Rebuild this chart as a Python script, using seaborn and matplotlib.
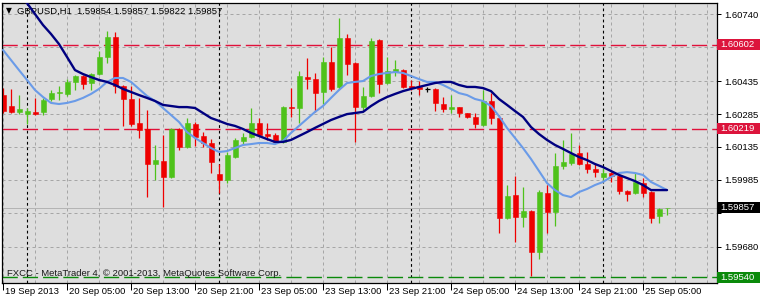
import numpy as np
import pandas as pd
import seaborn as sns
import matplotlib
matplotlib.use("Agg")
import matplotlib.pyplot as plt
from matplotlib.patches import Rectangle
from matplotlib.transforms import ScaledTranslation

# ---------------- data (GBPUSD H1) ----------------
open_ = [1.60372, 1.60322, 1.60295, 1.60285, 1.60295, 1.60295, 1.60354, 1.60381, 1.60377, 1.60432,
         1.60459, 1.60427, 1.60468, 1.60546, 1.60637, 1.60413, 1.60354, 1.60244, 1.60217, 1.60057,
         1.60071, 1.59998, 1.60217, 1.60135, 1.60240, 1.60185, 1.60153, 1.60011, 1.59984, 1.60089,
         1.60162, 1.60180, 1.60244, 1.60194, 1.60190, 1.60158, 1.60317, 1.60313, 1.60454, 1.60445,
         1.60386, 1.60523, 1.60409, 1.60633, 1.60518, 1.60317, 1.60368, 1.60624, 1.60427, 1.60477,
         1.60486, 1.60413, 1.60409, 1.60400, 1.60400, 1.60331, 1.60308, 1.60317, 1.60290, 1.60272,
         1.60235, 1.60345, 1.60267, 1.59810, 1.59915, 1.59815, 1.59842, 1.59655, 1.59925, 1.59838,
         1.60048, 1.60062, 1.60107, 1.60057, 1.60034, 1.59998, 1.60016, 1.60002, 1.59934, 1.59925,
         1.59970, 1.59929, 1.59820, 1.59854]
high = [1.60404, 1.60400, 1.60372, 1.60313, 1.60359, 1.60359, 1.60395, 1.60413, 1.60445, 1.60464,
        1.60464, 1.60473, 1.60573, 1.60665, 1.60660, 1.60418, 1.60413, 1.60359, 1.60304, 1.60144,
        1.60190, 1.60222, 1.60222, 1.60267, 1.60249, 1.60203, 1.60171, 1.60057, 1.60112, 1.60176,
        1.60199, 1.60313, 1.60267, 1.60244, 1.60199, 1.60322, 1.60404, 1.60482, 1.60541, 1.60473,
        1.60546, 1.60592, 1.60724, 1.60651, 1.60523, 1.60409, 1.60633, 1.60628, 1.60546, 1.60532,
        1.60491, 1.60441, 1.60436, 1.60409, 1.60404, 1.60363, 1.60372, 1.60317, 1.60290, 1.60290,
        1.60395, 1.60381, 1.60281, 1.59961, 1.60002, 1.59952, 1.59847, 1.59938, 1.59961, 1.60107,
        1.60167, 1.60199, 1.60144, 1.60112, 1.60062, 1.60039, 1.60020, 1.60011, 1.59938, 1.60016,
        1.59993, 1.59934, 1.59856, 1.59857]
low = [1.60290, 1.60290, 1.60285, 1.60240, 1.60281, 1.60281, 1.60345, 1.60349, 1.60368, 1.60395,
       1.60400, 1.60395, 1.60464, 1.60518, 1.60381, 1.60231, 1.60231, 1.60176, 1.59906, 1.59984,
       1.59861, 1.59993, 1.60121, 1.60130, 1.60139, 1.60135, 1.60016, 1.59925, 1.59970, 1.60084,
       1.60148, 1.60176, 1.60185, 1.60167, 1.60153, 1.60153, 1.60272, 1.60244, 1.60400, 1.60295,
       1.60331, 1.60390, 1.60400, 1.60464, 1.60158, 1.60304, 1.60363, 1.60381, 1.60422, 1.60459,
       1.60404, 1.60395, 1.60372, 1.60386, 1.60299, 1.60295, 1.60290, 1.60272, 1.60267, 1.60222,
       1.60231, 1.60240, 1.59742, 1.59806, 1.59701, 1.59769, 1.59545, 1.59623, 1.59742, 1.59774,
       1.60034, 1.60052, 1.60052, 1.60016, 1.59998, 1.59984, 1.59975, 1.59920, 1.59888, 1.59920,
       1.59906, 1.59788, 1.59788, 1.59822]
close = [1.60299, 1.60295, 1.60308, 1.60299, 1.60285, 1.60349, 1.60381, 1.60386, 1.60432, 1.60459,
         1.60422, 1.60468, 1.60546, 1.60637, 1.60413, 1.60354, 1.60240, 1.60212, 1.60057, 1.60075,
         1.59998, 1.60217, 1.60135, 1.60244, 1.60180, 1.60153, 1.60066, 1.59984, 1.60098, 1.60167,
         1.60180, 1.60244, 1.60190, 1.60185, 1.60158, 1.60317, 1.60313, 1.60459, 1.60445, 1.60381,
         1.60523, 1.60400, 1.60633, 1.60514, 1.60317, 1.60368, 1.60619, 1.60422, 1.60482, 1.60491,
         1.60409, 1.60404, 1.60400, 1.60400, 1.60336, 1.60308, 1.60317, 1.60290, 1.60272, 1.60240,
         1.60345, 1.60267, 1.59810, 1.59911, 1.59815, 1.59842, 1.59655, 1.59929, 1.59838, 1.60048,
         1.60066, 1.60103, 1.60057, 1.60034, 1.60020, 1.60016, 1.60002, 1.59934, 1.59920, 1.59975,
         1.59925, 1.59810, 1.59852, 1.59857]
ma_slow = [1.60907, 1.60870, 1.60829, 1.60792, 1.60742, 1.60692, 1.60651, 1.60605, 1.60546, 1.60486,
           1.60468, 1.60454, 1.60441, 1.60432, 1.60418, 1.60400, 1.60386, 1.60372, 1.60359, 1.60345,
           1.60327, 1.60322, 1.60317, 1.60317, 1.60313, 1.60290, 1.60267, 1.60254, 1.60240, 1.60231,
           1.60217, 1.60199, 1.60185, 1.60171, 1.60158, 1.60158, 1.60167, 1.60185, 1.60203, 1.60222,
           1.60240, 1.60258, 1.60272, 1.60285, 1.60290, 1.60295, 1.60322, 1.60345, 1.60363, 1.60377,
           1.60390, 1.60400, 1.60409, 1.60418, 1.60427, 1.60432, 1.60432, 1.60418, 1.60409, 1.60409,
           1.60404, 1.60390, 1.60354, 1.60327, 1.60299, 1.60272, 1.60226, 1.60194, 1.60167, 1.60144,
           1.60126, 1.60107, 1.60089, 1.60075, 1.60057, 1.60043, 1.60025, 1.60007, 1.59993, 1.59979,
           1.59961, 1.59938, 1.59938, 1.59938]
ma_fast = [1.60578, 1.60532, 1.60486, 1.60441, 1.60395, 1.60363, 1.60336, 1.60331, 1.60336, 1.60345,
           1.60359, 1.60377, 1.60400, 1.60432, 1.60450, 1.60450, 1.60432, 1.60400, 1.60368, 1.60345,
           1.60313, 1.60281, 1.60249, 1.60203, 1.60176, 1.60153, 1.60130, 1.60112, 1.60116, 1.60130,
           1.60144, 1.60148, 1.60153, 1.60153, 1.60148, 1.60162, 1.60199, 1.60231, 1.60263, 1.60295,
           1.60322, 1.60359, 1.60395, 1.60427, 1.60432, 1.60436, 1.60459, 1.60468, 1.60473, 1.60477,
           1.60473, 1.60459, 1.60445, 1.60432, 1.60432, 1.60418, 1.60400, 1.60381, 1.60372, 1.60354,
           1.60345, 1.60322, 1.60276, 1.60222, 1.60176, 1.60130, 1.60080, 1.60025, 1.59970, 1.59938,
           1.59915, 1.59906, 1.59929, 1.59943, 1.59961, 1.59975, 1.59998, 1.60016, 1.60020, 1.60016,
           1.60007, 1.59975, 1.59957, 1.59938]

xtick_bars = [0, 8, 16, 24, 32, 40, 48, 56, 64, 72, 80]
xtick_labels = ["19 Sep 2013", "20 Sep 05:00", "20 Sep 13:00", "20 Sep 21:00", "23 Sep 05:00",
                "23 Sep 13:00", "23 Sep 21:00", "24 Sep 05:00", "24 Sep 13:00", "24 Sep 21:00",
                "25 Sep 05:00"]
# grid prices; the two hidden under price tags carry no label
ytick_values = [1.59680, 1.59835, 1.59985, 1.60135, 1.60285, 1.60435, 1.60590, 1.60740]
ytick_labels = ["1.59680", "", "1.59985", "1.60135", "1.60285", "1.60435", "", "1.60740"]
day_breaks = [3, 27, 51, 75]
red_levels = [1.60602, 1.60219]
green_level = 1.59540
bid_price = 1.59857
header_text = "GBPUSD,H1  1.59854 1.59857 1.59822 1.59857"
footer_text = "FXCC - MetaTrader 4, \u00a9 2001-2013, MetaQuotes Software Corp."

df = pd.DataFrame({"bar": np.arange(len(open_)), "open": open_, "high": high,
                   "low": low, "close": close, "ma_slow": ma_slow, "ma_fast": ma_fast})

# ---------------- style ----------------
sns.set_theme(style="white")
plt.rcParams["font.family"] = ["Liberation Sans", "DejaVu Sans"]
plt.rcParams["axes.unicode_minus"] = False

W, H = 760, 300
fig = plt.figure(figsize=(W / 100, H / 100), dpi=100)
fig.patch.set_facecolor("white")
ax = fig.add_axes([2 / W, 17 / H, 715 / W, 280 / H])
ax.set_facecolor("#DEDEDE")

x_lo, x_hi = -0.125, 89.25
y_lo, y_hi = 1.595135, 1.607925
ax.set_xlim(x_lo, x_hi)
ax.set_ylim(y_lo, y_hi)
px_price = (y_hi - y_lo) / 280.0

GRID = "#A6A6A6"
FS = 6.8

# grid
ax.set_yticks(ytick_values)
ax.set_yticklabels(ytick_labels)
ax.set_xticks(xtick_bars)
ax.set_xticklabels(xtick_labels)
ax.set_xticks(list(range(0, 89, 4)), minor=True)
ax.grid(True, which="major", axis="y", color=GRID, linewidth=0.72, linestyle=(0, (3, 3)), zorder=0)
ax.grid(True, which="both", axis="x", color=GRID, linewidth=0.72, linestyle=(0, (3, 3)), zorder=0)
ax.set_axisbelow(True)

# day separators
for b in day_breaks:
    ax.axvline(b, color="black", linewidth=0.8, linestyle=(0, (2.5, 2.5)), zorder=1)

# level lines
for lv in red_levels:
    ax.axhline(lv, color="#E0103A", linewidth=1.0, linestyle=(0, (11, 3.6)), zorder=1)
ax.axhline(green_level, color="#0B8A0B", linewidth=1.0, linestyle=(0, (11, 3.6)), zorder=1)
ax.axhline(bid_price, color="#B4B4B4", linewidth=0.72, zorder=1)

# candles
UP, DN = "#4EC21A", "#EE0000"
body_w = 5 / 8
min_h = px_price * 0.9
for r in df.itertuples():
    if r.close > r.open:
        col = UP
    elif r.close < r.open:
        col = DN
    else:
        col = "black"
    ax.vlines(r.bar, r.low, r.high, color=col, linewidth=0.9, zorder=2)
    bot = min(r.open, r.close)
    h = max(abs(r.close - r.open), min_h)
    if col == "black":
        ax.hlines(r.open, r.bar - body_w / 2, r.bar + body_w / 2, color=col, linewidth=0.9, zorder=2)
    else:
        ax.bar(r.bar, h, bottom=bot, width=body_w, color=col, edgecolor=col,
               linewidth=0.4, zorder=2.5)

# moving averages
sns.lineplot(data=df, x="bar", y="ma_fast", ax=ax, color="#6A9BE8", linewidth=1.5, zorder=4)
sns.lineplot(data=df, x="bar", y="ma_slow", ax=ax, color="#000080", linewidth=1.7, zorder=4.5)
ax.set_xlabel("")
ax.set_ylabel("")

# axes / ticks
ax.yaxis.tick_right()
ax.tick_params(axis="y", which="major", right=True, left=False, length=3, width=0.72,
               color="black", labelsize=FS, pad=2, labelcolor="black")
ax.tick_params(axis="x", which="major", bottom=True, length=5, width=0.72, color="black",
               labelsize=FS, pad=0, labelcolor="black")
ax.tick_params(axis="x", which="minor", length=0)
off = ScaledTranslation(2 / 100, 3 / 100, fig.dpi_scale_trans)
for lab in ax.get_xticklabels():
    lab.set_horizontalalignment("left")
    lab.set_transform(lab.get_transform() + off)
for sp in ax.spines.values():
    sp.set_color("black")
    sp.set_linewidth(0.9)
    sp.set_visible(True)

# header and footer
ax.text((9 - 2) / 715, (283 - 11) / 280, "\u25bc", transform=ax.transAxes, fontsize=5.5,
        family=["DejaVu Sans"], ha="center", va="center", color="black", zorder=3.5)
ax.text((17 - 2) / 715, (283 - 11) / 280, header_text, transform=ax.transAxes, fontsize=FS,
        ha="left", va="center", color="black", zorder=3.5)
ax.text((7 - 2) / 715, (283 - 274) / 280, footer_text, transform=ax.transAxes, fontsize=FS,
        ha="left", va="center", color="#1A1A1A", zorder=3.5)

# price tags on the right axis
tr = ax.get_yaxis_transform()
tag_w = (760 - 717) / 715
tag_h = 11 * px_price
for price, fc in [(red_levels[0], "#DC143C"), (red_levels[1], "#DC143C"),
                  (bid_price, "black"), (green_level, "#0B8A0B")]:
    ax.add_patch(Rectangle((1.0, price - tag_h / 2), tag_w, tag_h, transform=tr,
                           facecolor=fc, edgecolor="none", clip_on=False, zorder=10))
    ax.text(1.0 + 3 / 715, price, f"{price:.5f}", transform=tr, ha="left", va="center",
            fontsize=FS, color="white", clip_on=False, zorder=11)

fig.savefig("out.png", dpi=100, facecolor="white")
